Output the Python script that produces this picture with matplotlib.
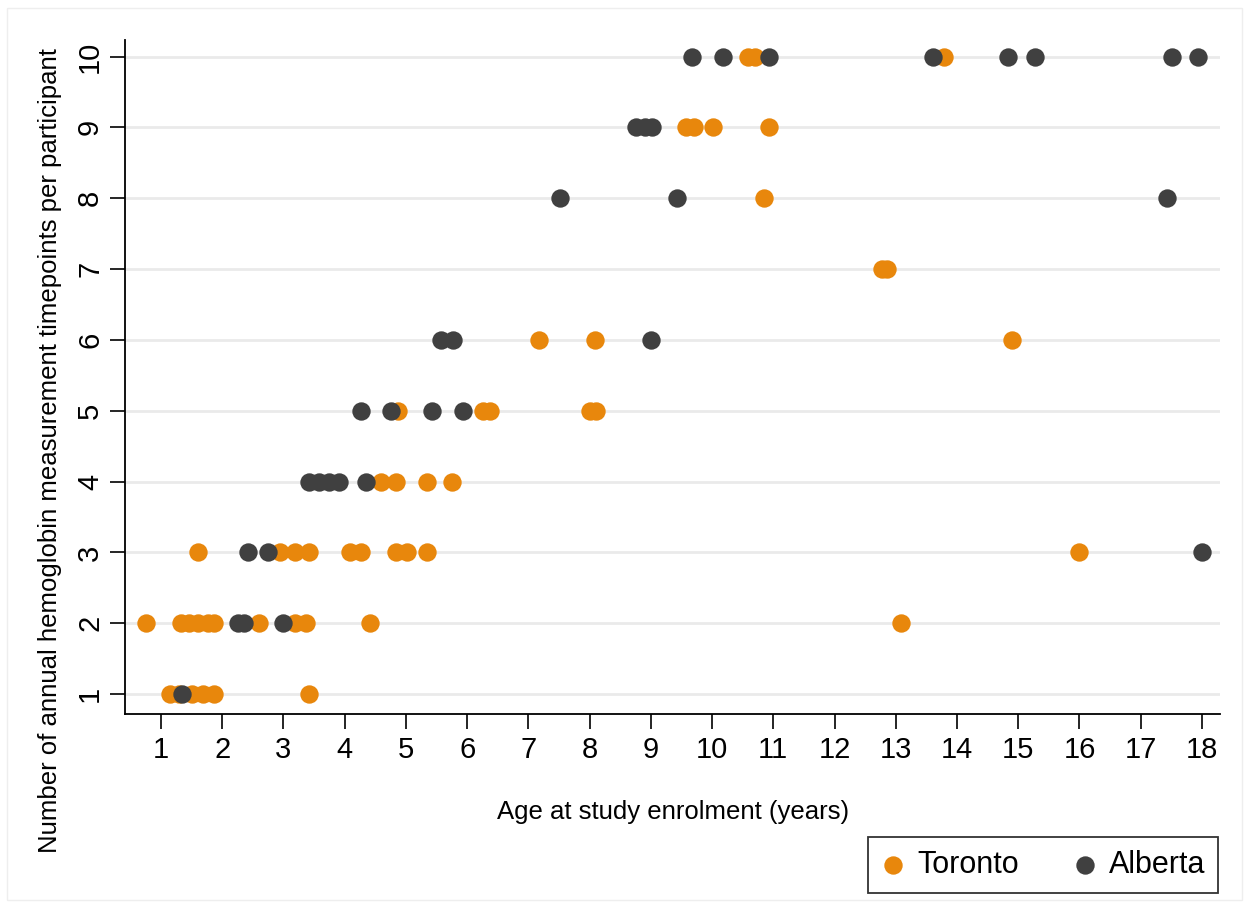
import matplotlib
matplotlib.use("Agg")
import matplotlib.pyplot as plt
from matplotlib.patches import Rectangle

plt.rcParams["font.family"] = ["Liberation Sans", "DejaVu Sans"]

# ages at enrolment (years) per number of timepoints
toronto_age = [1.15, 1.30, 1.50, 1.68, 1.86, 3.42,
               0.75, 1.33, 1.46, 1.60, 1.77, 1.87, 2.60, 3.18, 3.37, 4.42, 13.09,
               1.60, 2.95, 3.18, 3.42, 4.09, 4.27, 4.84, 5.02, 5.35, 16.0,
               4.60, 4.84, 5.35, 5.75,
               4.87, 6.26, 6.37, 8.00, 8.10,
               7.17, 8.09, 14.90,
               12.77, 12.85,
               10.85,
               9.58, 9.71, 10.01, 10.93,
               10.59, 10.70, 13.79]
toronto_n = [1, 1, 1, 1, 1, 1,
             2, 2, 2, 2, 2, 2, 2, 2, 2, 2, 2,
             3, 3, 3, 3, 3, 3, 3, 3, 3, 3,
             4, 4, 4, 4,
             5, 5, 5, 5, 5,
             6, 6, 6,
             7, 7,
             8,
             9, 9, 9, 9,
             10, 10, 10]

alberta_age = [1.34,
               2.25, 2.36, 3.00,
               2.42, 2.74, 18.0,
               3.42, 3.58, 3.75, 3.91, 4.35,
               4.26, 4.76, 5.43, 5.93,
               5.58, 5.77, 9.00,
               7.51, 9.43, 17.43,
               8.76, 8.90, 9.02,
               9.68, 10.18, 10.93, 13.60, 14.84, 15.27, 17.51, 17.94]
alberta_n = [1,
             2, 2, 2,
             3, 3, 3,
             4, 4, 4, 4, 4,
             5, 5, 5, 5,
             6, 6, 6,
             8, 8, 8,
             9, 9, 9,
             10, 10, 10, 10, 10, 10, 10, 10]

ORANGE = "#E8870C"
DARK = "#404040"

fig = plt.figure(figsize=(12.49, 9.09), dpi=100)
# faint outer frame like the exported graph
fig.patches.append(Rectangle((0.006, 0.01), 0.988, 0.981, transform=fig.transFigure,
                             fill=False, edgecolor="#EEEEEE", lw=1))
ax = fig.add_axes([0.100, 0.2145, 0.877, 0.742])

for y in range(1, 11):
    ax.axhline(y, color="#EAEAEA", lw=2, zorder=0)

ax.scatter(toronto_age, toronto_n, s=175, color=ORANGE, lw=0, zorder=2, label="Toronto")
ax.scatter(alberta_age, alberta_n, s=175, color=DARK, lw=0, zorder=3, label="Alberta")

ax.set_xlim(0.41, 18.3)
ax.set_ylim(0.72, 10.24)
ax.set_xticks(range(1, 19))
ax.set_yticks(range(1, 11))
ax.tick_params(axis="both", labelsize=21, length=11, width=1.2, color="black")
ax.tick_params(axis="x", pad=5)
ax.tick_params(axis="y", labelrotation=90, pad=4)
for lab in ax.get_yticklabels():
    lab.set_va("center")
for s in ["top", "right"]:
    ax.spines[s].set_visible(False)
for s in ["left", "bottom"]:
    ax.spines[s].set_linewidth(1.3)

ax.set_xlabel("Age at study enrolment (years)", fontsize=18.5)
ax.xaxis.set_label_coords(0.5, -0.128)
ax.set_ylabel("Number of annual hemoglobin measurement timepoints per participant",
              fontsize=18.5)
ax.yaxis.set_label_coords(-0.057, 0.39)

leg = fig.legend(loc="lower right", bbox_to_anchor=(0.975, 0.0176), ncol=2,
                 fontsize=22, frameon=True, fancybox=False, handlelength=0.8,
                 handletextpad=0.38, columnspacing=1.75, borderpad=0.42,
                 borderaxespad=0)
leg.get_frame().set_edgecolor("black")
leg.get_frame().set_linewidth(1.3)

fig.savefig("out.png", dpi=100)
